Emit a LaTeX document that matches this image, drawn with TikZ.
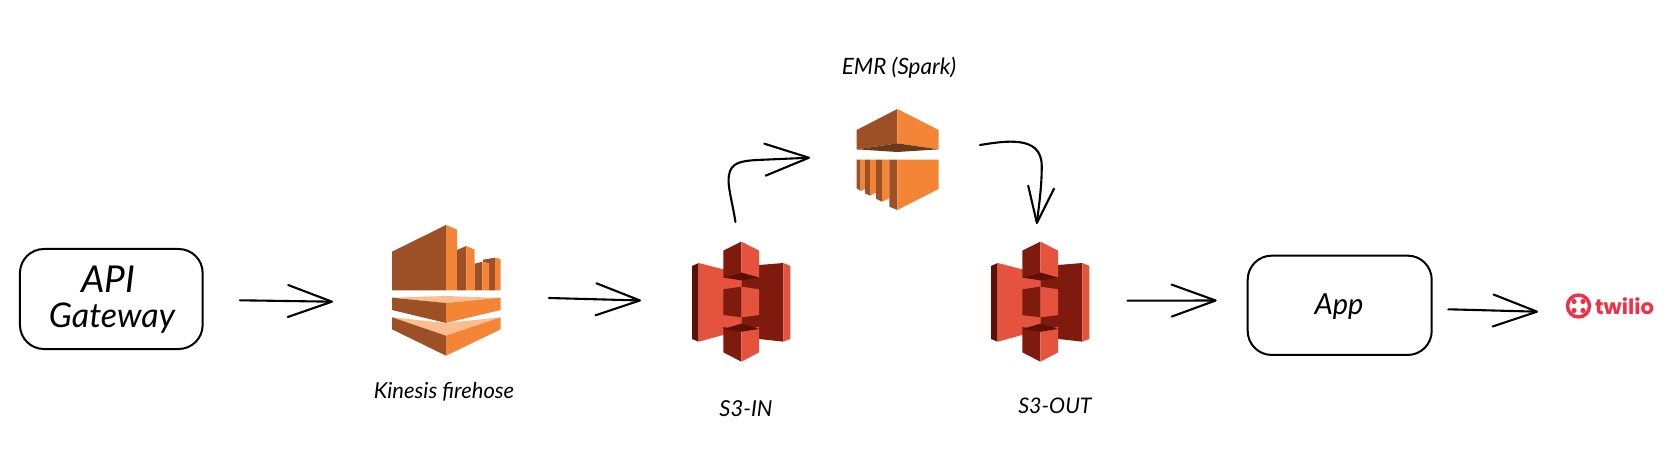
\documentclass[tikz,border=0pt]{standalone}
\usepackage{fontspec}
\setmainfont{Lato}
\newfontfamily\twfont{Poppins}
\usetikzlibrary{arrows.meta}
\definecolor{kdark}{HTML}{9D5025}
\definecolor{korange}{HTML}{F58536}
\definecolor{klight}{HTML}{FDBD8F}
\definecolor{kshadow}{HTML}{6B3A19}
\definecolor{sdark}{HTML}{7F1A0F}
\definecolor{ssalmon}{HTML}{E5533F}
\definecolor{sdeep}{HTML}{5E0F06}
\definecolor{twred}{HTML}{F22F46}
\tikzset{
  x=1pt,y=-1pt,
  hand/.style={font=\itshape\fontsize{#1}{#1}\selectfont,text=black,inner sep=0pt},
  sketchbox/.style={draw=black,line width=2pt,rounded corners=24pt,inner sep=0pt,align=center,
     font=\itshape\fontsize{29}{39}\selectfont},
  iconbox/.style={inner sep=0pt,outer sep=0pt},
  conn/.style={draw=black,line width=2.1pt,line cap=round,line join=round,
     -{Straight Barb[length=44pt,width=32pt,round]}},
  connshort/.style={draw=black,line width=2.1pt,line cap=round,line join=round,
     -{Straight Barb[length=36pt,width=26pt,round]}},
}
\newcommand{\sthreeicon}[1]{%
\begin{scope}[shift={(#1)},xscale=0.336,yscale=0.33333]
  \fill[sdeep] (21,93)--(41,84)--(41,320)--(21,312)--cycle;
  \fill[ssalmon] (41,84)--(114,103)--(168,110)--(168,290)--(114,300)--(41,320)--cycle;
  \fill[sdark] (221,90)--(293,84)--(293,320)--(221,312)--(168,290)--(168,110)--cycle;
  \fill[ssalmon] (293,84)--(314,93)--(314,312)--(293,320)--cycle;
  \fill[sdark] (114,47)--(168,20)--(168,113)--(114,128)--cycle;
  \fill[ssalmon] (168,20)--(221,47)--(221,128)--(168,113)--cycle;
  \fill[sdeep] (114,128)--(168,113)--(221,128)--(168,136)--cycle;
  \fill[sdark] (114,163)--(168,155)--(168,247)--(114,240)--cycle;
  \fill[ssalmon] (168,155)--(221,163)--(221,240)--(168,247)--cycle;
  \fill[sdark] (114,275)--(168,290)--(168,380)--(114,352)--cycle;
  \fill[ssalmon] (168,290)--(221,275)--(221,352)--(168,380)--cycle;
  \fill[sdeep] (114,282)--(168,266)--(221,282)--(168,290)--cycle;
\end{scope}}
\begin{document}
\begin{tikzpicture}
\useasboundingbox (0,0) rectangle (1671,457);
% boxes
\node[sketchbox,minimum width=182.7pt,minimum height=100pt] (api) at (111.3,299) {};
\node[hand=37] (apitxt) at (108,279) {API};
\node[hand=34] (gwtxt) at (112,318) {Gateway};
\node[sketchbox,minimum width=184pt,minimum height=99.3pt] (app) at (1339.7,305.3) {};
\node[hand=29] (apptxt) at (1339,307) {App};
% icon frames
\node[iconbox,minimum width=108.7pt,minimum height=130pt] (kin) at (446.35,290) {};
\node[iconbox,minimum width=98.5pt,minimum height=120pt] (s3in) at (741.25,301.7) {};
\node[iconbox,minimum width=98.5pt,minimum height=120pt] (s3out) at (1040.25,301.7) {};
\node[iconbox,minimum width=82pt,minimum height=101pt] (emr) at (897.7,159.5) {};
% Kinesis
\fill[kdark] (392,251.7)--(446,225)--(446,290.3)--(392,290.3)--cycle;
\fill[korange] (446,225)--(457,229.7)--(457,290.3)--(446,290.3)--cycle;
\fill[kdark] (457,250)--(466.3,246)--(466.3,290.3)--(457,290.3)--cycle;
\fill[korange] (466.3,246)--(474.7,249.7)--(474.7,290.3)--(466.3,290.3)--cycle;
\fill[kdark] (483,259.7)--(495,257.7)--(495,290.3)--(489,290.3)--(489,263.7)--(483,261.7)--cycle;
\fill[korange] (495,257.7)--(500.7,259)--(500.7,290.3)--(495,290.3)--cycle;
\fill[kdark] (474.7,263.7)--(482.3,261.7)--(482.3,290.3)--(474.7,290.3)--cycle;
\fill[korange] (482.3,261.7)--(489,263.7)--(489,290.3)--(482.3,290.3)--cycle;
\fill[klight] (392,297.7)--(446,296)--(500.7,298)--(446,303)--cycle;
\fill[kdark] (392,297.7)--(446,303)--(446,323)--(392,310)--cycle;
\fill[korange] (446,303)--(500.7,297.7)--(500.7,310)--(446,323)--cycle;
\fill[klight] (392,317.3)--(446,323)--(500.7,317.3)--(446,335.7)--cycle;
\fill[kdark] (392,317.3)--(446,335.7)--(446,355.7)--(392,329.3)--cycle;
\fill[korange] (446,335.7)--(500.7,317.3)--(500.7,329.3)--(446,355.7)--cycle;
% S3
\sthreeicon{684.94,235}
\sthreeicon{983.94,235}
% EMR
\begin{scope}[shift={(640,120)},scale=0.33333]
  \fill[kdark] (650,30)--(772,-33)--(772,70)--(650,88)--cycle;
  \fill[korange] (772,-33)--(896,30)--(896,88)--(772,70)--cycle;
  \fill[kshadow] (650,88)--(772,70)--(896,88)--(772,96)--cycle;
  \fill[kdark] (650,119)--(662,119)--(662,213)--(650,205)--cycle;
  \fill[korange] (662,119)--(675,119)--(675,207)--(662,213)--cycle;
  \fill[kdark] (675,119)--(690,119)--(690,227)--(675,220)--cycle;
  \fill[korange] (690,119)--(708,119)--(708,218)--(690,227)--cycle;
  \fill[kdark] (708,119)--(726,119)--(726,245)--(708,236)--cycle;
  \fill[korange] (726,119)--(748,119)--(748,235)--(726,245)--cycle;
  \fill[kdark] (748,119)--(772,119)--(772,270)--(748,260)--cycle;
  \fill[korange] (772,119)--(896,119)--(896,207)--(772,270)--cycle;
\end{scope}
% labels
\node[hand=22] (lbkin) at (444,392) {Kinesis firehose};
\node[hand=22.5] (lbemr) at (899,68) {EMR (Spark)};
\node[hand=22] (lbin) at (746,409) {S3-IN};
\node[hand=21.5] (lbout) at (1055,406) {S3-OUT};
% twilio
\node[circle,draw=twred,line width=3.4pt,minimum size=22pt,inner sep=0pt] (tw) at (1578.5,306) {};
\fill[twred] (1574,301.5) circle (2.6) (1583,301.5) circle (2.6) (1574,310.5) circle (2.6) (1583,310.5) circle (2.6);
\node[anchor=west,inner sep=0pt,text=twred,font=\twfont\bfseries\fontsize{21}{21}\selectfont] (twtxt) at (1595,306) {twilio};
% connectors
\draw[conn] ([shift={(36.3,1.3)}]api.east) -- ([shift={(-59,11.7)}]kin.west);
\draw[conn] ([shift={(48.3,8)}]kin.east) -- ([shift={(-51,-1.2)}]s3in.west);
\draw[conn] ([shift={(-5.8,-19.7)}]s3in.north) .. controls (732,200) and (727,185) .. (729,175) .. controls (731,163) and (740,161) .. (757,160) -- ([shift={(-46.7,-1.8)}]emr.west);
\draw[connshort] ([shift={(41.3,-14.5)}]emr.east) .. controls (1005,141) and (1041,135) .. (1041.7,165) .. controls (1042,185) and (1039,205) .. ([shift={(-3.5,-17.7)}]s3out.north);
\draw[conn] ([shift={(38,-1)}]s3out.east) -- ([shift={(-30,-4.8)}]app.west);
\draw[conn] ([shift={(15.6,4)}]app.east) -- ([shift={(-27.7,5.7)}]tw.west);
\end{tikzpicture}
\end{document}
